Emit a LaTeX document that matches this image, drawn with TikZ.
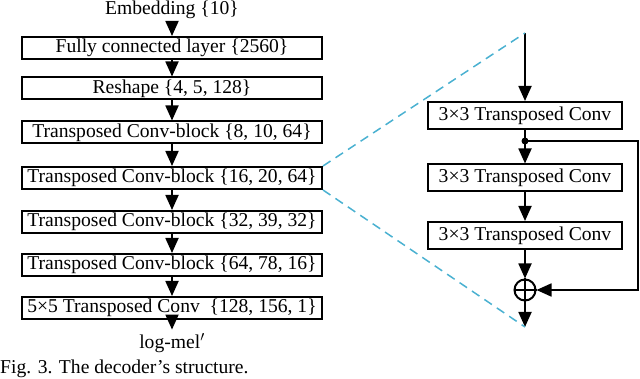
\documentclass[tikz,border=0pt]{standalone}
\usepackage{fontspec}
\setmainfont{Liberation Serif}
\usetikzlibrary{arrows.meta}
\definecolor{zoomblue}{RGB}{74,177,209}

\begin{document}
\begin{tikzpicture}[x=1pt, y=-1pt, >={Triangle[width=13pt,length=15pt]},
    font=\fontsize{19.6}{22}\selectfont,
    layer/.style={draw, line width=2pt, minimum width=300pt, minimum height=22pt, inner sep=0pt},
    conv/.style={draw, line width=2pt, minimum width=194pt, minimum height=27pt, inner sep=0pt},
    flow/.style={->, line width=1.8pt},
    zoomline/.style={zoomblue, line width=1.5pt, dash pattern=on 9pt off 6pt}]
    \useasboundingbox (0,0) rectangle (640,379);

    % Decoder stack
    \node (emb) at (172,10) {Embedding \{10\}};
    \node[layer] (fc) at (172,48) {Fully connected layer \{2560\}};
    \node[layer] (resh) at (172,88.5) {Reshape \{4, 5, 128\}};
    \node[layer] (tc1) at (172,132.5) {Transposed Conv-block \{8, 10, 64\}};
    \node[layer] (tc2) at (172,178) {Transposed Conv-block \{16, 20, 64\}};
    \node[layer] (tc3) at (172,222) {Transposed Conv-block \{32, 39, 32\}};
    \node[layer] (tc4) at (172,265) {Transposed Conv-block \{64, 78, 16\}};
    \node[layer] (last) at (172,308) {5×5 Transposed Conv\ \ \{128, 156, 1\}};
    \node (out) at (172,343) {log-mel$'$};

    \draw[flow] (emb) -- (fc);
    \draw[flow] (fc) -- (resh);
    \draw[flow] (resh) -- (tc1);
    \draw[flow] (tc1) -- (tc2);
    \draw[flow] (tc2) -- (tc3);
    \draw[flow] (tc3) -- (tc4);
    \draw[flow] (tc4) -- (last);
    \draw[flow] (last) -- (out);

    % Conv-block detail
    \coordinate (in) at (525,33);
    \node[conv] (c1) at (525,115.5) {3×3 Transposed Conv};
    \node[conv] (c2) at (525,178) {3×3 Transposed Conv};
    \node[conv] (c3) at (525,235.5) {3×3 Transposed Conv};
    \node[circle, draw, line width=2pt, minimum size=21pt, inner sep=0pt] (sum) at (525,290) {};
    \draw[line width=2pt] (sum.north) -- (sum.south) (sum.west) -- (sum.east);
    \coordinate (split) at (525,141);
    \coordinate (loop) at (638,141);
    \coordinate (outb) at (525,327);
    \fill (split) circle (3.5pt);

    \draw[flow] (in) -- (c1);
    \draw[line width=1.8pt] (c1) -- (split);
    \draw[flow] (split) -- (c2);
    \draw[flow] (c2) -- (c3);
    \draw[flow] (c3) -- (sum);
    \draw[flow] (sum) -- (outb);
    \draw[flow] (split) -- (loop) |- (sum.east);

    % Zoom lines
    \draw[zoomline] (tc2.north east) -- (in);
    \draw[zoomline] (tc2.south east) -- (outb);

    % Caption
    \node[anchor=base west, inner sep=0pt] (cap) at (0,373.5) {Fig. 3. The decoder's structure.};
\end{tikzpicture}
\end{document}
